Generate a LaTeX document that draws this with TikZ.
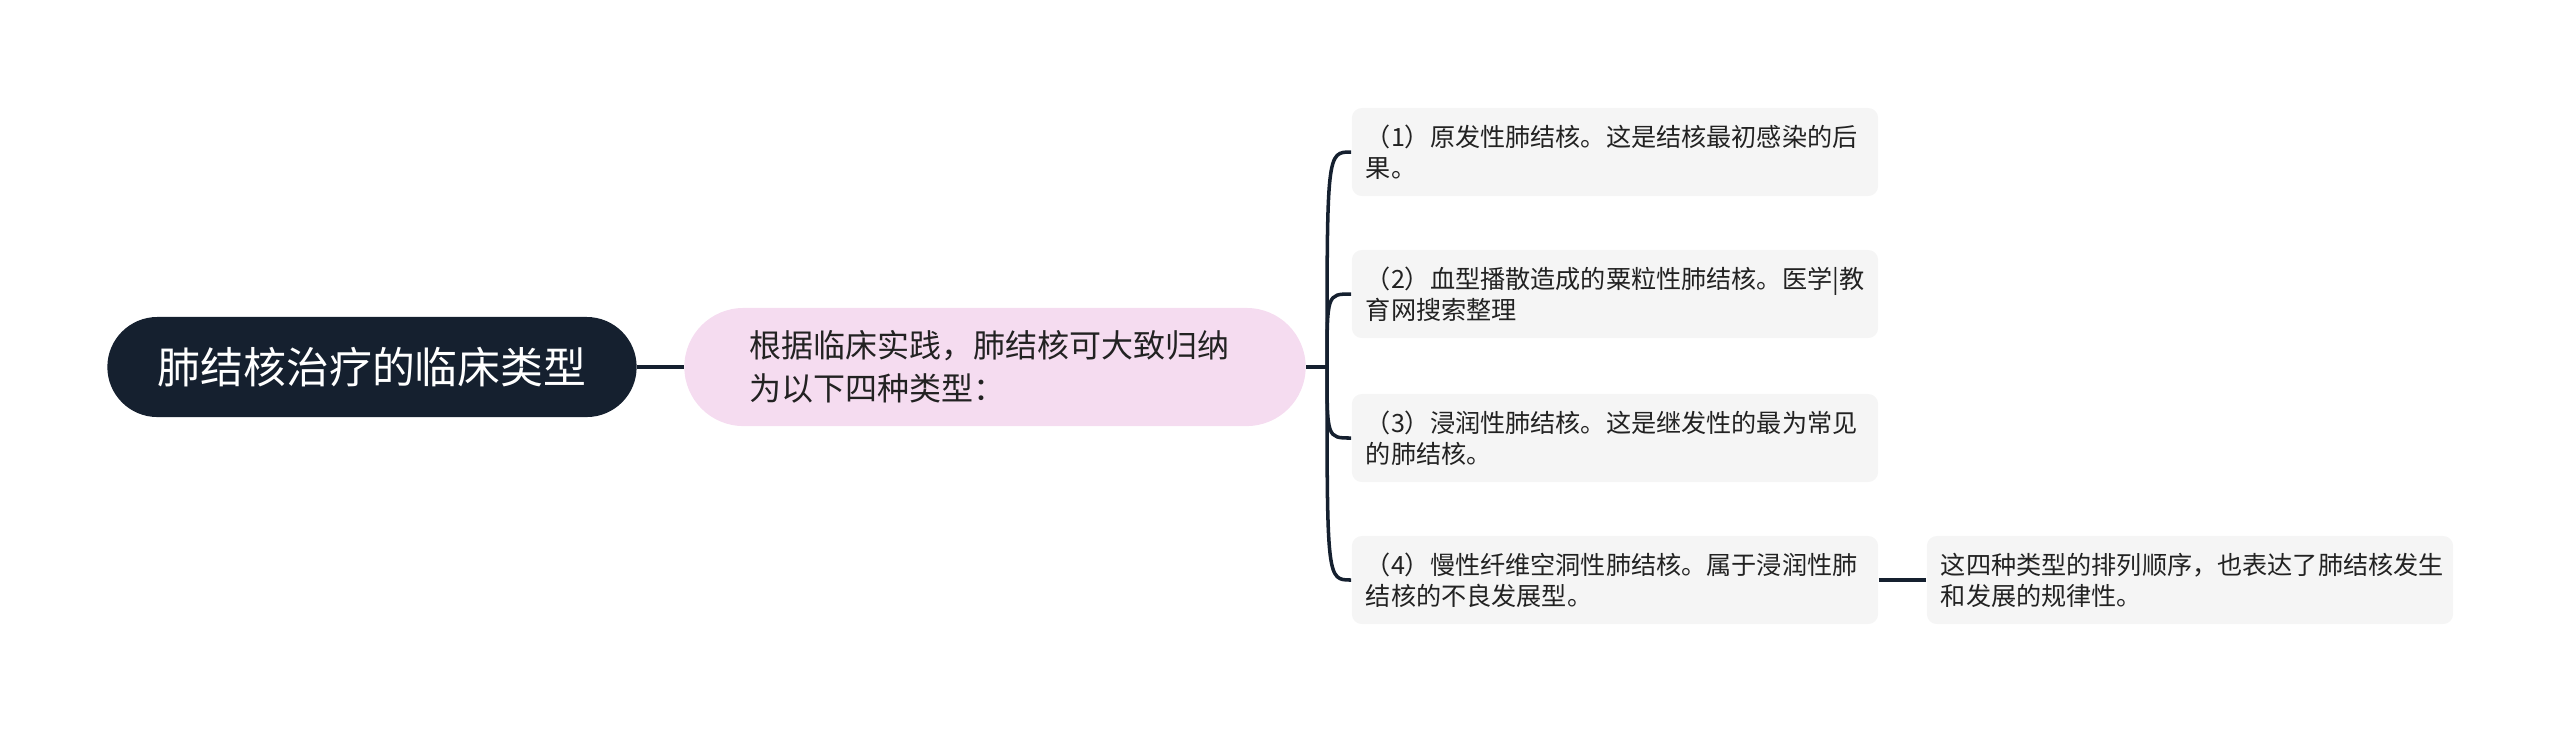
\documentclass[tikz,border=0pt]{standalone}
\usepackage{fontspec}
\newfontfamily\cjk{Noto Sans CJK SC}
\definecolor{navy}{HTML}{15202F}
\definecolor{pinkfill}{HTML}{F5DCF0}
\definecolor{leafgray}{HTML}{F5F5F5}
\definecolor{ink}{HTML}{222222}
\begin{document}
\begin{tikzpicture}
          [x=0.01cm,y=-0.01cm,
           rootbox/.style={fill=navy, text=white, rounded corners=0.5cm, minimum width=5.29cm, minimum height=1cm, font=\cjk\fontsize{12.2pt}{15pt}\selectfont},
           midbox/.style={fill=pinkfill, text=ink, rounded corners=0.59cm, minimum width=6.21cm, minimum height=1.18cm, text width=4.9cm, align=left, font=\cjk\fontsize{9.1pt}{12.2pt}\selectfont},
           leafbox/.style={fill=leafgray, text=ink, rounded corners=0.1cm, minimum width=5.26cm, minimum height=0.88cm, inner xsep=0.14cm, text width=4.98cm, align=left, font=\cjk\fontsize{7.15pt}{8.8pt}\selectfont},
           branch/.style={draw=navy, line width=1pt}]
        \useasboundingbox (0,0) rectangle (2560,735);
        \node[rootbox] (root) at (372,367) {肺结核治疗的临床类型};
        \node[midbox] (mid) at (995,367) {根据临床实践，肺结核可大致归纳\\为以下四种类型：};
        \node[leafbox] (l1) at (1615,152) {（1）原发性肺结核。这是结核最初感染的后\\果。};
        \node[leafbox] (l2) at (1615,294) {（2）血型播散造成的粟粒性肺结核。医学|教\\育网搜索整理};
        \node[leafbox] (l3) at (1615,438) {（3）浸润性肺结核。这是继发性的最为常见\\的肺结核。};
        \node[leafbox] (l4) at (1615,580) {（4）慢性纤维空洞性肺结核。属于浸润性肺\\结核的不良发展型。};
        \node[leafbox] (l5) at (2190,580) {这四种类型的排列顺序，也表达了肺结核发生\\和发展的规律性。};
        \coordinate (fork) at (1327,367);

        \draw[branch] (root) -- (mid);
        \draw[branch] (mid.east) -- (fork);
        \foreach \to in {l1, l2, l3, l4}
          \draw[branch] (fork) .. controls (fork |- \to.west) .. (\to.west);
        \draw[branch] (l4) -- (l5);
      \end{tikzpicture}
\end{document}
